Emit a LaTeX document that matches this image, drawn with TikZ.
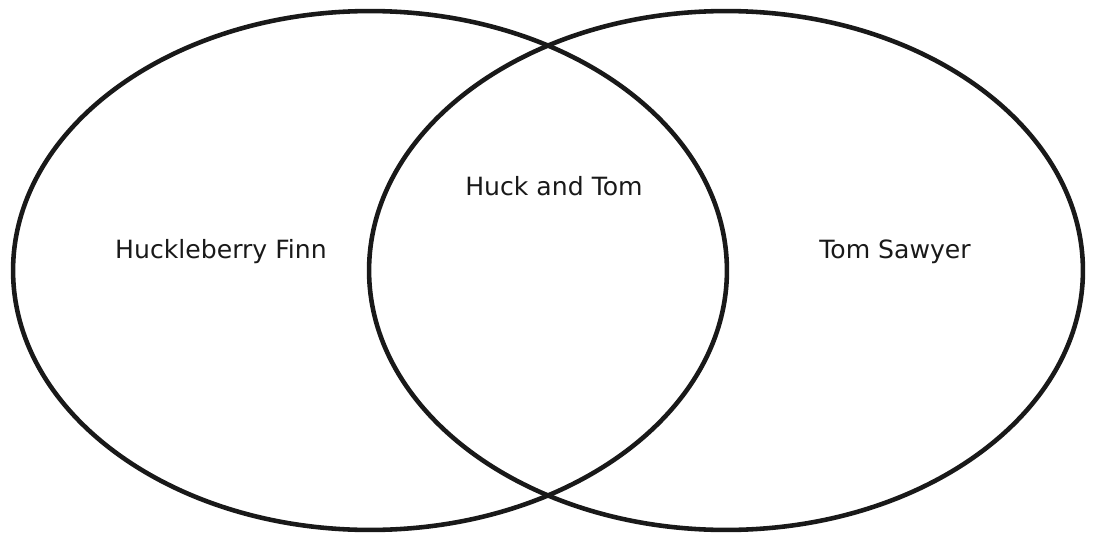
\documentclass[tikz,border=0pt]{standalone}
\usepackage{fontspec}
\setmainfont{DejaVu Sans}
\usepackage{tikz}
\usetikzlibrary{shapes.geometric}
\tikzset{
  set_shape/.style={ellipse, draw=black!90, line width=2.6pt, inner sep=0pt, minimum width=14.28cm, minimum height=10.38cm},
  set_label/.style={font=\fontsize{14.3}{16}\selectfont, text=black!90}
}

\begin{document}
\begin{tikzpicture}[x=0.02cm, y=-0.02cm]
    % Fix the page to the proportions of the reference
    \useasboundingbox (0,0) rectangle (1093,534);

    % The two sets
    \node[set_shape](huck_set) at (370,270.5) {};
    \node[set_shape](tom_set) at (726,270.5) {};

    % Labels of the regions
    \node[set_label](huck_label) at (221,252) {Huckleberry Finn};
    \node[set_label](both_label) at (554,186) {Huck and Tom};
    \node[set_label](tom_label) at (895,252) {Tom Sawyer};
\end{tikzpicture}
\end{document}
